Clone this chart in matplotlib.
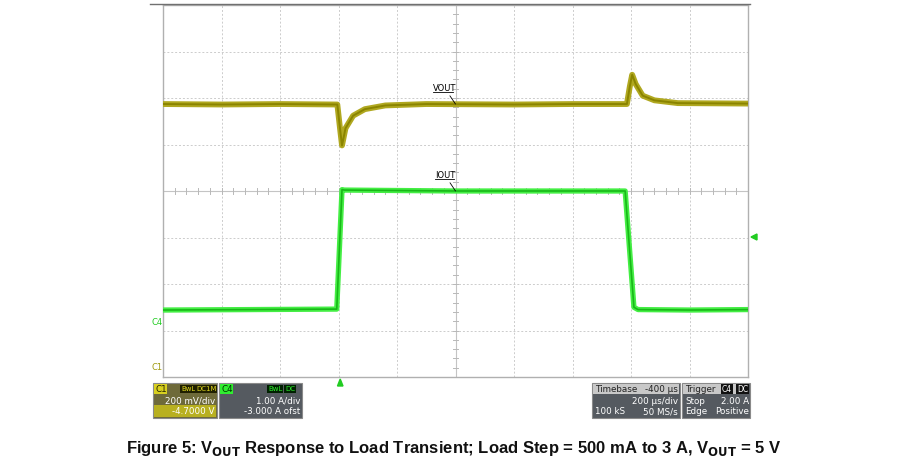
import matplotlib
matplotlib.use("Agg")
import matplotlib.pyplot as plt
from matplotlib.patches import Rectangle
import numpy as np

# data in screen divisions (x: 0-10 divisions of 200 us, y: 0-8 divisions)
vout_x = [0, 1.0, 2.0, 2.98, 3.03, 3.06, 3.12, 3.25, 3.45, 3.8, 4.5, 6.0, 7.0, 7.93, 7.98, 8.02, 8.08, 8.2, 8.4, 8.8, 10]
vout_y = [5.87, 5.86, 5.87, 5.86, 5.3, 4.98, 5.35, 5.62, 5.76, 5.84, 5.87, 5.86, 5.87, 5.87, 6.25, 6.5, 6.3, 6.05, 5.95, 5.89, 5.88]
iout_x = [0, 1.5, 2.97, 3.06, 3.1, 5.0, 7.9, 8.05, 8.12, 9.0, 10]
iout_y = [1.44, 1.45, 1.46, 4.03, 4.02, 4.0, 4.00, 1.50, 1.45, 1.44, 1.45]

W, H = 909, 474
fig = plt.figure(figsize=(W/100, H/100), dpi=100)
L, R, T, B = 163, 748, 5, 377
ax = fig.add_axes([L/W, 1-B/H, (R-L)/W, (B-T)/H])
ax.set_xlim(0, 10); ax.set_ylim(0, 8)
ax.set_xticks([]); ax.set_yticks([])
for s in ax.spines.values():
    s.set_color("#b0b0b0"); s.set_linewidth(1)
for i in range(1, 10):
    ax.axvline(i, color="#cccccc", lw=0.7, ls=(0, (2, 2)), zorder=0)
for j in range(1, 8):
    ax.axhline(j, color="#cccccc", lw=0.7, ls=(0, (2, 2)), zorder=0)
ax.axvline(5, color="#c4c4c4", lw=0.8, zorder=0)
ax.axhline(4, color="#c4c4c4", lw=0.8, zorder=0)
for t in np.arange(0, 10.01, 0.2):
    ax.plot([t, t], [3.94, 4.06], color="#b8b8b8", lw=0.7, zorder=0)
for t in np.arange(0, 8.01, 0.2):
    ax.plot([4.95, 5.05], [t, t], color="#b8b8b8", lw=0.7, zorder=0)

ax.plot(vout_x, vout_y, color="#b0a820", lw=4.2, solid_joinstyle="round", zorder=3)
ax.plot(vout_x, vout_y, color="#8a8400", lw=1.4, zorder=4)
ax.plot(iout_x, iout_y, color="#44ee44", lw=3.8, zorder=3)
ax.plot(iout_x, iout_y, color="#18b818", lw=1.2, zorder=4)

ax.annotate("VOUT", xy=(5.0, 5.87), xytext=(4.62, 6.15), fontsize=6, color="black",
            arrowprops=dict(arrowstyle="-", color="black", lw=0.6, shrinkA=0, shrinkB=0), zorder=5)
ax.plot([4.62, 4.95], [6.13, 6.13], color="black", lw=0.6, zorder=5)
ax.annotate("IOUT", xy=(5.0, 4.0), xytext=(4.65, 4.28), fontsize=6, color="black",
            arrowprops=dict(arrowstyle="-", color="black", lw=0.6, shrinkA=0, shrinkB=0), zorder=5)
ax.plot([4.65, 4.97], [4.26, 4.26], color="black", lw=0.6, zorder=5)

fig.text(152/W, 1-325/H, "C4", color="#22cc22", fontsize=6)
fig.text(152/W, 1-370/H, "C1", color="#a09a10", fontsize=6)
fig.patches.append(plt.Polygon([[337.5/W, 1-386/H], [343/W, 1-386/H], [340.2/W, 1-379/H]], closed=True,
                               transform=fig.transFigure, color="#22cc22"))
fig.patches.append(plt.Polygon([[751/W, 1-237/H], [757/W, 1-234/H], [757/W, 1-240/H]], closed=True,
                               transform=fig.transFigure, color="#22cc22"))
fig.add_artist(plt.Line2D([150/W, 750/W], [1-4/H, 1-4/H], color="#707070", lw=1))

def box(x0, x1, y0, y1, fc):
    fig.patches.append(Rectangle((x0/W, 1-y1/H), (x1-x0)/W, (y1-y0)/H, transform=fig.transFigure,
                                 facecolor=fc, edgecolor="#8a8a8a", lw=0.8))
def tx(x, y, s, ha="left", c="white", bg=None, fs=6.3):
    fig.text(x/W, 1-y/H, s, ha=ha, va="center", fontsize=fs, color=c,
             bbox=None if bg is None else dict(boxstyle="square,pad=0.08", fc=bg, ec="none"))

box(153, 217, 383, 418, "#6e6a3a")
fig.patches.append(Rectangle((154/W, 1-417/H), 62/W, 12/H, transform=fig.transFigure, facecolor="#b8b020", lw=0))
box(219, 302, 383, 418, "#555a60")
box(592, 680, 383, 418, "#555a60")
box(682, 750, 383, 418, "#555a60")
fig.patches.append(Rectangle((593/W, 1-394/H), 86/W, 10/H, transform=fig.transFigure, facecolor="#c8c8c8", lw=0))
fig.patches.append(Rectangle((683/W, 1-394/H), 66/W, 10/H, transform=fig.transFigure, facecolor="#c8c8c8", lw=0))

tx(155, 389, "C1", c="#222200", bg="#d8d020")
tx(181, 389, "BwL", c="#e0d820", bg="#202000", fs=5)
tx(196, 389, "DC1M", c="#e0d820", bg="#202000", fs=5)
tx(215, 401, "200 mV/div", ha="right")
tx(215, 412, "-4.7000 V", ha="right")
tx(221, 389, "C4", c="#003300", bg="#30ee30")
tx(268, 389, "BwL", c="#30ee30", bg="#002000", fs=5)
tx(285, 389, "DC", c="#30ee30", bg="#002000", fs=5)
tx(300, 401, "1.00 A/div", ha="right")
tx(300, 412, "-3.000 A ofst", ha="right")
tx(595, 389, "Timebase", c="#222222")
tx(678, 389, "-400 µs", ha="right", c="#222222")
tx(678, 401, "200 µs/div", ha="right")
tx(595, 412, "100 kS")
tx(678, 412, "50 MS/s", ha="right")
tx(685, 389, "Trigger", c="#222222")
tx(722, 389, "C4", c="white", bg="#111111", fs=5.5)
tx(737, 389, "DC", c="white", bg="#111111", fs=5.5)
tx(685, 401, "Stop")
tx(749, 401, "2.00 A", ha="right")
tx(685, 412, "Edge")
tx(749, 412, "Positive", ha="right")

fig.text(454/W, 1-449/H, r"Figure 5: V$_{\mathbf{OUT}}$ Response to Load Transient; Load Step = 500 mA to 3 A, V$_{\mathbf{OUT}}$ = 5 V",
         ha="center", va="center", fontsize=12, fontweight="bold", color="#111111", family="Liberation Sans")
fig.savefig("out.png", dpi=100)
